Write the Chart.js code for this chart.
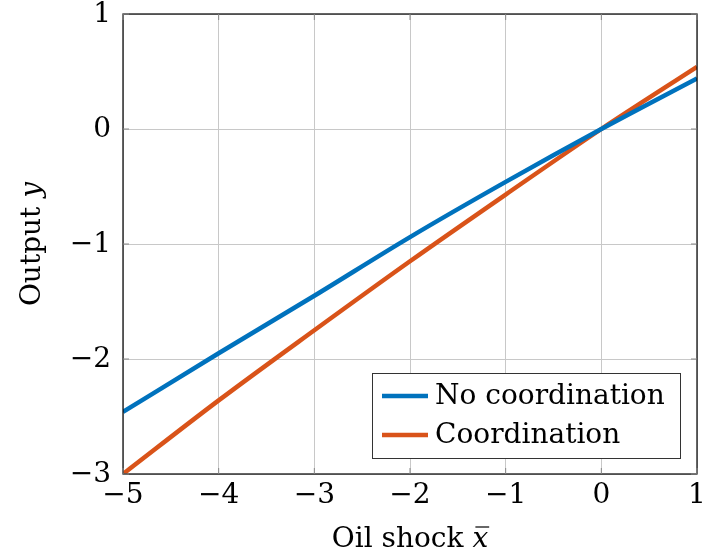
<!DOCTYPE html>
<html>
<head>
<meta charset="utf-8">
<script src="https://cdn.jsdelivr.net/npm/chart.js@4"></script>
<style>
  html, body { margin: 0; padding: 0; background: #fff; }
  #wrap { width: 703px; height: 556px; }
</style>
</head>
<body>
<div id="wrap"><canvas id="chart"></canvas></div>
<script>
// Data
const shocks = [-5, -4, -3, -2, -1, 0, 1];
const noCoord = [-2.46, -1.95, -1.45, -0.94, -0.46, 0, 0.44];
const coord = [-3.0, -2.36, -1.75, -1.15, -0.57, 0, 0.54];
const xTicks = [-5, -4, -3, -2, -1, 0, 1];
const yTicks = [-3, -2, -1, 0, 1];

const C_BLUE = "#0072BD";
const C_ORANGE = "#D95319";
const FONT = "'DejaVu Serif', 'Liberation Serif', serif";
const FS = 28;

Chart.defaults.font.family = FONT;
Chart.defaults.color = "#000";

const fmt = (v) => (v < 0 ? "\u2212" + Math.abs(v) : String(v));

// legend box inside the plot, tick labels, axis titles with italic math, frame and inward ticks
const decor = {
  id: "decor",
  afterDatasetsDraw(chart) {
    const { ctx } = chart;
    const x0 = 372, y0 = 373, w = 309, h = 86;
    ctx.save();
    ctx.fillStyle = "#fff";
    ctx.fillRect(x0, y0, w, h);
    ctx.strokeStyle = "#333";
    ctx.lineWidth = 1;
    ctx.strokeRect(x0 + 0.5, y0 + 0.5, w - 1, h - 1);
    ctx.font = FS + "px " + FONT;
    ctx.textBaseline = "middle";
    chart.data.datasets.forEach((ds, i) => {
      const yy = y0 + 23 + i * 39;
      ctx.strokeStyle = ds.borderColor;
      ctx.lineWidth = 4.5;
      ctx.beginPath();
      ctx.moveTo(x0 + 10, yy);
      ctx.lineTo(x0 + 56, yy);
      ctx.stroke();
      ctx.fillStyle = "#000";
      ctx.fillText(ds.label, x0 + 63, yy + 1);
    });
    ctx.restore();
  },
  afterDraw(chart) {
    const { ctx, chartArea: a, scales } = chart;
    ctx.save();
    ctx.strokeStyle = "#000";
    ctx.lineWidth = 1.2;
    ctx.strokeRect(a.left, a.top, a.right - a.left, a.bottom - a.top);
    ctx.strokeStyle = "#888";
    ctx.lineWidth = 1;
    xTicks.forEach((v) => {
      const px = scales.x.getPixelForValue(v);
      ctx.beginPath();
      ctx.moveTo(px, a.bottom); ctx.lineTo(px, a.bottom - 6);
      ctx.moveTo(px, a.top); ctx.lineTo(px, a.top + 6);
      ctx.stroke();
    });
    yTicks.forEach((v) => {
      const py = scales.y.getPixelForValue(v);
      ctx.beginPath();
      ctx.moveTo(a.left, py); ctx.lineTo(a.left + 6, py);
      ctx.moveTo(a.right, py); ctx.lineTo(a.right - 6, py);
      ctx.stroke();
    });

    const up = FS + "px " + FONT, it = "italic " + FS + "px " + FONT;
    ctx.fillStyle = "#000";

    // tick labels
    ctx.font = up;
    ctx.textBaseline = "middle";
    ctx.textAlign = "center";
    xTicks.forEach((v) => ctx.fillText(fmt(v), scales.x.getPixelForValue(v), a.bottom + 22));
    ctx.textAlign = "right";
    yTicks.forEach((v) => ctx.fillText(fmt(v), a.left - 12, scales.y.getPixelForValue(v) + 1));
    ctx.textAlign = "left";

    // x title
    ctx.textBaseline = "alphabetic";
    const t1 = "Oil shock ";
    const w1 = ctx.measureText(t1).width;
    ctx.font = it;
    const w2 = ctx.measureText("x").width;
    const sx = (a.left + a.right) / 2 - (w1 + w2) / 2;
    const by = 547;
    ctx.font = up;
    ctx.fillText(t1, sx, by);
    ctx.font = it;
    ctx.fillText("x", sx + w1, by);
    ctx.strokeStyle = "#000";
    ctx.lineWidth = 1.2;
    ctx.beginPath();
    ctx.moveTo(sx + w1 + 3, by - 20);
    ctx.lineTo(sx + w1 + w2 + 1, by - 20);
    ctx.stroke();

    // y title
    ctx.translate(40, (a.top + a.bottom) / 2);
    ctx.rotate(-Math.PI / 2);
    ctx.font = up;
    const t3 = "Output ";
    const w3 = ctx.measureText(t3).width;
    ctx.font = it;
    const w4 = ctx.measureText("y").width;
    const s2 = -(w3 + w4) / 2;
    ctx.font = up;
    ctx.fillText(t3, s2, 0);
    ctx.font = it;
    ctx.fillText("y", s2 + w3, 0);
    ctx.restore();
  },
};

new Chart(document.getElementById("chart"), {
  type: "line",
  data: {
    datasets: [
      {
        label: "No coordination",
        data: shocks.map((x, i) => ({ x, y: noCoord[i] })),
        borderColor: C_BLUE,
        borderWidth: 4.5,
        pointRadius: 0,
        cubicInterpolationMode: "monotone",
      },
      {
        label: "Coordination",
        data: shocks.map((x, i) => ({ x, y: coord[i] })),
        borderColor: C_ORANGE,
        borderWidth: 4.5,
        pointRadius: 0,
        cubicInterpolationMode: "monotone",
      },
    ],
  },
  options: {
    responsive: true,
    maintainAspectRatio: false,
    animation: false,
    layout: { padding: { top: 14, right: 6, left: 0, bottom: 0 } },
    plugins: { legend: { display: false }, tooltip: { enabled: false } },
    scales: {
      x: {
        type: "linear",
        min: -5,
        max: 1,
        afterBuildTicks: (s) => { s.ticks = xTicks.map((v) => ({ value: v })); },
        afterFit: (s) => { s.height = 82; },
        grid: { color: "#c8c8c8", drawTicks: false },
        border: { display: false },
        ticks: { display: false },
      },
      y: {
        min: -3,
        max: 1,
        afterBuildTicks: (s) => { s.ticks = yTicks.map((v) => ({ value: v })); },
        afterFit: (s) => { s.width = 123; },
        grid: { color: "#c8c8c8", drawTicks: false },
        border: { display: false },
        ticks: { display: false },
      },
    },
  },
  plugins: [decor],
});
</script>
</body>
</html>
